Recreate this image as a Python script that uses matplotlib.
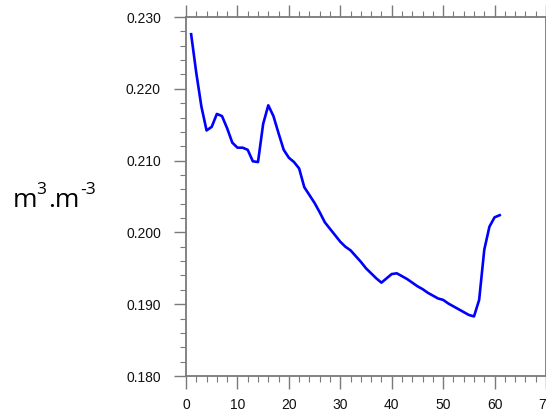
import matplotlib
matplotlib.use("Agg")
import matplotlib.pyplot as plt
from matplotlib.ticker import MultipleLocator, FormatStrFormatter

days = list(range(1, 62))
soil_moisture = [
    0.2276, 0.2222, 0.2175, 0.2142, 0.2147, 0.2165, 0.2162, 0.2145, 0.2125, 0.2118,
    0.2118, 0.2115, 0.2099, 0.2098, 0.2151, 0.2177, 0.2162, 0.2138, 0.2115, 0.2104,
    0.2098, 0.2089, 0.2063, 0.2052, 0.2041, 0.2028, 0.2014, 0.2005, 0.1996, 0.1987,
    0.1980, 0.1975, 0.1967, 0.1959, 0.1950, 0.1943, 0.1936, 0.1930, 0.1936, 0.1942,
    0.1943, 0.1939, 0.1935, 0.1930, 0.1925, 0.1921, 0.1916, 0.1912, 0.1908, 0.1906,
    0.1901, 0.1897, 0.1893, 0.1889, 0.1885, 0.1883, 0.1906, 0.1976, 0.2008, 0.2021,
    0.2024,
]
x_ticks = [0, 10, 20, 30, 40, 50, 60, 70]
y_ticks = [0.180, 0.190, 0.200, 0.210, 0.220, 0.230]
label_parts = ["m", "3", ".m", "-3"]  # base / superscript / base / superscript

fig = plt.figure(figsize=(5.46, 4.12), dpi=100)
ax = fig.add_axes([186 / 546, 1 - 376 / 412, 360 / 546, 359 / 412])
ax.plot(days, soil_moisture, color="#0000ff", lw=1.9)

ax.set_xlim(0, 70)
ax.set_ylim(0.180, 0.230)
ax.set_xticks(x_ticks)
ax.set_yticks(y_ticks)
ax.xaxis.set_minor_locator(MultipleLocator(2))
ax.yaxis.set_minor_locator(MultipleLocator(0.002))
ax.yaxis.set_major_formatter(FormatStrFormatter("%.3f"))

spine_col = "#7a7a7a"
for s in ax.spines.values():
    s.set_color(spine_col)
    s.set_linewidth(1.3)

ax.tick_params(which="both", direction="out", top=True, right=True,
               color=spine_col, labelcolor="#111111")
ax.tick_params(which="major", length=9, width=1.0, labelsize=10)
ax.tick_params(axis="y", which="major", pad=9)
ax.tick_params(axis="x", which="major", pad=7)
ax.tick_params(which="minor", length=4.5, width=0.8)
for lab in ax.get_xticklabels() + ax.get_yticklabels():
    lab.set_fontfamily("Liberation Sans")

# y-axis unit label built from pieces: base text and raised superscripts
piece_x = [13.0, 36.5, 48.5, 80.5]
base_y = 206.5
for i, part in enumerate(label_parts):
    sup = (i % 2 == 1)
    size = 12.5 if sup else 19
    y_px = base_y - (13.0 if sup else 0)
    fig.text(piece_x[i] / 546, 1 - y_px / 412, part, fontsize=size,
             family="Open Sans", ha="left", va="baseline", color="black")

fig.savefig("out.png", dpi=100)
